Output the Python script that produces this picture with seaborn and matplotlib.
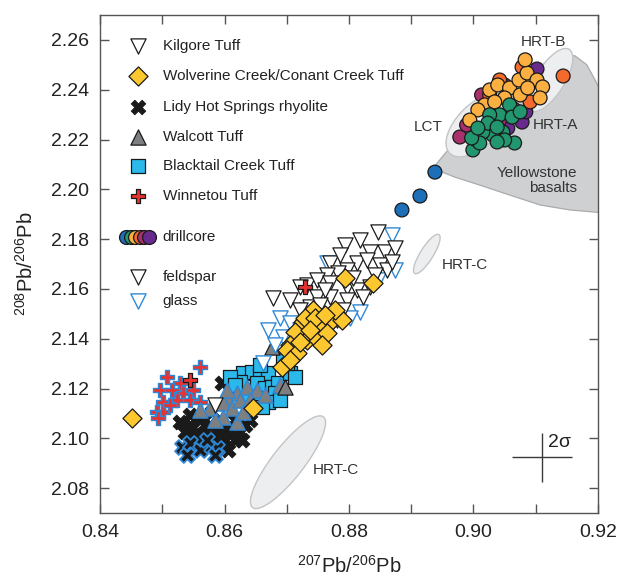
import numpy as np
import pandas as pd
import matplotlib
matplotlib.use("Agg")
import matplotlib.pyplot as plt
import seaborn as sns
from matplotlib.patches import Ellipse
from matplotlib.ticker import MultipleLocator, FormatStrFormatter

# ---------------- data ----------------
kilgore_fsp_x = [0.8846, 0.8793, 0.8834, 0.8858, 0.8874, 0.8769, 0.8813, 0.8829, 0.8850, 0.8861,
                 0.8797, 0.8782, 0.8765, 0.8732, 0.8721, 0.8748, 0.8769, 0.8797, 0.8813, 0.8834,
                 0.8822, 0.8797, 0.8769, 0.8748, 0.8678, 0.8737, 0.8790, 0.8806, 0.8842, 0.8869,
                 0.8585, 0.8761, 0.8785, 0.8818, 0.8705, 0.8753, 0.8781, 0.8721]
kilgore_fsp_y = [2.1828, 2.1776, 2.1748, 2.1748, 2.1764, 2.1704, 2.1704, 2.1716, 2.1696, 2.1675,
                 2.1675, 2.1663, 2.1655, 2.1615, 2.1607, 2.1635, 2.1623, 2.1607, 2.1595, 2.1607,
                 2.1567, 2.1555, 2.1567, 2.1567, 2.1563, 2.1527, 2.1515, 2.1643, 2.1655, 2.1708,
                 2.1133, 2.1595, 2.1736, 2.1796, 2.1555, 2.1535, 2.1474, 2.1515]
kilgore_gls_x = [0.8869, 0.8818, 0.8689, 0.8732, 0.8705, 0.8694, 0.8662, 0.8681, 0.8802, 0.8765,
                 0.8846, 0.8874, 0.8670, 0.8721, 0.8753]
kilgore_gls_y = [2.1816, 2.1507, 2.1482, 2.1515, 2.1462, 2.1406, 2.1302, 2.1374, 2.1482, 2.1704,
                 2.1635, 2.1675, 2.1434, 2.1434, 2.1563]

wolverine_x = [0.8793, 0.8838, 0.8742, 0.8769, 0.8789, 0.8753, 0.8726, 0.8713, 0.8732, 0.8750,
               0.8765, 0.8705, 0.8700, 0.8716, 0.8692, 0.8729, 0.8745, 0.8777, 0.8737, 0.8721,
               0.8757, 0.8761, 0.8451, 0.8646, 0.8705]
wolverine_y = [2.1643, 2.1623, 2.1515, 2.1466, 2.1474, 2.1446, 2.1466, 2.1426, 2.1394, 2.1394,
               2.1422, 2.1374, 2.1354, 2.1342, 2.1286, 2.1482, 2.1482, 2.1515, 2.1434, 2.1386,
               2.1374, 2.1495, 2.1080, 2.1121, 2.1314]

lidy_fsp_x = [0.8528, 0.8545, 0.8561, 0.8577, 0.8593, 0.8609, 0.8625, 0.8537, 0.8553, 0.8569,
              0.8585, 0.8601, 0.8617, 0.8577, 0.8593, 0.8561, 0.8633, 0.8617, 0.8545, 0.8596,
              0.8612, 0.8580, 0.8641, 0.8553, 0.8606, 0.8628]
lidy_fsp_y = [2.1064, 2.1052, 2.1072, 2.1052, 2.1040, 2.1032, 2.1024, 2.1024, 2.1012, 2.1024,
              2.1000, 2.0992, 2.0992, 2.0972, 2.0960, 2.0980, 2.1052, 2.1072, 2.1093, 2.1221,
              2.1225, 2.1105, 2.1072, 2.0972, 2.0952, 2.0992]
lidy_gls_x = [0.8532, 0.8545, 0.8561, 0.8588, 0.8572, 0.8540, 0.8585]
lidy_gls_y = [2.0964, 2.0980, 2.0952, 2.0960, 2.0992, 2.0932, 2.0932]

walcott_fsp_x = [0.8676, 0.8697]
walcott_fsp_y = [2.1366, 2.1205]
walcott_gls_x = [0.8636, 0.8620, 0.8604, 0.8652, 0.8577, 0.8598, 0.8612, 0.8598, 0.8620, 0.8625,
                 0.8604, 0.8641, 0.8630, 0.8665, 0.8585, 0.8561, 0.8689]
walcott_gls_y = [2.1205, 2.1181, 2.1165, 2.1193, 2.1121, 2.1141, 2.1121, 2.1084, 2.1064, 2.1153,
                 2.1193, 2.1153, 2.1105, 2.1173, 2.1072, 2.1113, 2.1213]

blacktail_x = [0.8630, 0.8644, 0.8657, 0.8670, 0.8625, 0.8652, 0.8665, 0.8676, 0.8686, 0.8705,
               0.8713, 0.8681, 0.8670, 0.8649, 0.8636, 0.8609, 0.8700, 0.8660, 0.8689, 0.8617,
               0.8694, 0.8657]
blacktail_y = [2.1261, 2.1265, 2.1253, 2.1261, 2.1225, 2.1221, 2.1201, 2.1205, 2.1221, 2.1261,
               2.1245, 2.1181, 2.1145, 2.1161, 2.1165, 2.1245, 2.1302, 2.1125, 2.1153, 2.1213,
               2.1314, 2.1294]

winnetou_gls_x = [0.8561, 0.8508, 0.8528, 0.8496, 0.8516, 0.8533, 0.8549, 0.8501, 0.8524, 0.8545,
                  0.8561, 0.8492, 0.8501, 0.8493, 0.8512]
winnetou_gls_y = [2.1285, 2.1245, 2.1221, 2.1193, 2.1193, 2.1181, 2.1193, 2.1145, 2.1153, 2.1153,
                  2.1145, 2.1105, 2.1105, 2.1080, 2.1133]
winnetou_fsp_x = [0.8545, 0.8729]
winnetou_fsp_y = [2.1233, 2.1607]

drill_purple_x = [0.9102, 0.9078, 0.9055, 0.9084]
drill_purple_y = [2.2483, 2.2270, 2.2246, 2.2311]
drill_magenta_x = [0.8978, 0.8989, 0.9050, 0.9042, 0.9013]
drill_magenta_y = [2.2210, 2.2258, 2.2419, 2.2278, 2.2379]
drill_orange_x = [0.9144, 0.9078, 0.9042, 0.9091, 0.9066, 0.9026]
drill_orange_y = [2.2455, 2.2491, 2.2439, 2.2351, 2.2319, 2.2379]
drill_yellow_x = [0.9026, 0.9039, 0.9058, 0.9073, 0.9086, 0.9102, 0.9111, 0.9075, 0.9050, 0.9018,
                  0.9034, 0.9062, 0.9087, 0.9083, 0.9007, 0.9107, 0.8994]
drill_yellow_y = [2.2399, 2.2419, 2.2407, 2.2439, 2.2467, 2.2439, 2.2411, 2.2379, 2.2367, 2.2339,
                  2.2351, 2.2327, 2.2407, 2.2520, 2.2319, 2.2367, 2.2278]
drill_green_x = [0.8999, 0.9005, 0.9026, 0.9042, 0.9058, 0.9062, 0.9047, 0.9031, 0.9015, 0.9026,
                 0.9066, 0.9050, 0.9038, 0.9010, 0.8997, 0.9023, 0.9075, 0.9007, 0.9038]
drill_green_y = [2.2158, 2.2198, 2.2246, 2.2299, 2.2339, 2.2290, 2.2230, 2.2218, 2.2230, 2.2299,
                 2.2186, 2.2198, 2.2190, 2.2186, 2.2206, 2.2266, 2.2311, 2.2246, 2.2250]
drill_blue_x = [0.8885, 0.8914, 0.8938]
drill_blue_y = [2.1917, 2.1973, 2.2069]

basalt_x = [0.8935, 0.8959, 0.8981, 0.9007, 0.9042, 0.9078, 0.9115, 0.9142, 0.9163, 0.9182,
            0.9197, 0.9211, 0.9211, 0.9155, 0.9107, 0.9058, 0.9010, 0.8970, 0.8946]
basalt_y = [2.2085, 2.2158, 2.2230, 2.2299, 2.2367, 2.2439, 2.2508, 2.2540, 2.2536, 2.2500,
            2.2431, 2.2359, 2.1905, 2.1917, 2.1937, 2.1977, 2.2017, 2.2049, 2.2073]

# ellipse fields: center x, center y, major / minor (fraction of axes), angle
ell_names = ["LCT", "HRT-B", "HRT-C small", "HRT-C large"]
ell_cx = [0.9007, 0.9123, 0.8925, 0.8702]
ell_cy = [2.2258, 2.2439, 2.1740, 2.0904]
ell_major = [0.160, 0.145, 0.092, 0.231]
ell_minor = [0.084, 0.058, 0.026, 0.064]
ell_angle = [45, 58, 58, 52]

err_x, err_y = 0.9110, 2.0924
err_dx, err_dy = 0.0048, 0.0098

# ---------------- style ----------------
sns.set_theme(style="ticks")
plt.rcParams['font.family'] = ['Liberation Sans', 'DejaVu Sans']
plt.rcParams['mathtext.fontset'] = 'custom'
plt.rcParams['mathtext.rm'] = 'Liberation Sans'
plt.rcParams['mathtext.it'] = 'Liberation Sans:italic'
plt.rcParams['mathtext.bf'] = 'Liberation Sans:bold'

GOLD = '#FDC72F'
CYAN = '#2BB9EC'
GRAY = '#7E7F81'
RED = '#E8322F'
BLUE_E = '#2F88D6'
BLK = '#1a1a1a'
TXT = '#333333'
drill_pal = {'blue': '#1D6FB8', 'green': '#22966E', 'yellow': '#FBB041',
             'orange': '#F26B2D', 'magenta': '#A8306D', 'purple': '#682A8D'}

fig = plt.figure(figsize=(6.19, 5.76), dpi=100)
ax = fig.add_axes([100/619, 63/576, 498/619, 498/576])
XMIN, XMAX, YMIN, YMAX = 0.84, 0.92, 2.07, 2.27
ax.set_xlim(XMIN, XMAX)
ax.set_ylim(YMIN, YMAX)

# basalt field
ax.fill(basalt_x, basalt_y, facecolor='#CFD0D2', edgecolor='#A9AAAC', lw=0.9, zorder=1)

# ellipses (defined in axes fraction so they stay true ellipses)
for cx, cy, ma, mi, an in zip(ell_cx, ell_cy, ell_major, ell_minor, ell_angle):
    fx = (cx - XMIN) / (XMAX - XMIN)
    fy = (cy - YMIN) / (YMAX - YMIN)
    e = Ellipse((fx, fy), ma, mi, angle=an, transform=ax.transAxes,
                facecolor='#EDEEF0', edgecolor='#C3C4C6', lw=1.0, zorder=1.5)
    ax.add_patch(e)

ms = dict(ax=ax, legend=False)
# Lidy Hot Springs
sns.scatterplot(x=lidy_fsp_x, y=lidy_fsp_y, marker='X', s=115, color=BLK,
                edgecolor=BLK, linewidth=0.6, zorder=3, **ms)
sns.scatterplot(x=lidy_gls_x, y=lidy_gls_y, marker='X', s=115, color=BLK,
                edgecolor=BLUE_E, linewidth=1.3, zorder=3.1, **ms)
# Winnetou
sns.scatterplot(x=winnetou_gls_x, y=winnetou_gls_y, marker='P', s=110, color=RED,
                edgecolor=BLUE_E, linewidth=1.0, zorder=3.2, **ms)
# Blacktail Creek
sns.scatterplot(x=blacktail_x, y=blacktail_y, marker='s', s=88, color=CYAN,
                edgecolor=BLK, linewidth=0.9, zorder=3.3, **ms)
# Walcott
sns.scatterplot(x=walcott_gls_x, y=walcott_gls_y, marker='^', s=120, color=GRAY,
                edgecolor=BLUE_E, linewidth=1.0, zorder=3.4, **ms)
sns.scatterplot(x=walcott_fsp_x, y=walcott_fsp_y, marker='^', s=120, color=GRAY,
                edgecolor=BLK, linewidth=0.9, zorder=3.4, **ms)
# Kilgore
sns.scatterplot(x=kilgore_gls_x, y=kilgore_gls_y, marker='v', s=120, color='white',
                edgecolor=BLUE_E, linewidth=1.0, zorder=3.5, **ms)
sns.scatterplot(x=kilgore_fsp_x, y=kilgore_fsp_y, marker='v', s=120, color='white',
                edgecolor=BLK, linewidth=0.9, zorder=3.6, **ms)
# Wolverine
sns.scatterplot(x=wolverine_x, y=wolverine_y, marker='D', s=95, color=GOLD,
                edgecolor=BLK, linewidth=0.9, zorder=3.7, **ms)
sns.scatterplot(x=winnetou_fsp_x, y=winnetou_fsp_y, marker='P', s=110, color=RED,
                edgecolor=BLK, linewidth=0.9, zorder=3.8, **ms)

# drillcore
frames = []
for name, xs, ys in [('purple', drill_purple_x, drill_purple_y),
                     ('magenta', drill_magenta_x, drill_magenta_y),
                     ('orange', drill_orange_x, drill_orange_y),
                     ('yellow', drill_yellow_x, drill_yellow_y),
                     ('green', drill_green_x, drill_green_y),
                     ('blue', drill_blue_x, drill_blue_y)]:
    frames.append(pd.DataFrame({'x': xs, 'y': ys, 'core': name}))
drill = pd.concat(frames, ignore_index=True)
sns.scatterplot(data=drill, x='x', y='y', hue='core', palette=drill_pal, marker='o',
                s=100, edgecolor=BLK, linewidth=0.9, zorder=4, **ms)

# 2 sigma cross
ax.errorbar([err_x], [err_y], xerr=[err_dx], yerr=[err_dy], fmt='none',
            ecolor='#3a3a3a', elinewidth=1.0, capsize=0, zorder=5)
ax.text(0.9120, 2.0984, '2σ', fontsize=14, color='#222222', ha='left', va='center')

# field labels
lab = dict(fontsize=11, color=TXT, zorder=6)
ax.text(0.9113, 2.2592, 'HRT-B', ha='center', va='center', **lab)
ax.text(0.8927, 2.2250, 'LCT', ha='center', va='center', **lab)
ax.text(0.9131, 2.2258, 'HRT-A', ha='center', va='center', **lab)
ax.text(0.9166, 2.2065, 'Yellowstone', ha='right', va='center', **lab)
ax.text(0.9166, 2.2005, 'basalts', ha='right', va='center', **lab)
ax.text(0.8986, 2.1696, 'HRT-C', ha='center', va='center', **lab)
ax.text(0.8779, 2.0871, 'HRT-C', ha='center', va='center', **lab)

# legend (drawn by hand in axes fraction)
lx, tx = 0.0757, 0.126
rows = [(0.938, 'Kilgore Tuff', dict(marker='v', s=120, c='white', edgecolors=BLK, linewidths=0.9)),
        (0.878, 'Wolverine Creek/Conant Creek Tuff', dict(marker='D', s=95, c=GOLD, edgecolors=BLK, linewidths=0.9)),
        (0.816, 'Lidy Hot Springs rhyolite', dict(marker='X', s=110, c=BLK, edgecolors=BLK, linewidths=0.6)),
        (0.756, 'Walcott Tuff', dict(marker='^', s=120, c=GRAY, edgecolors=BLK, linewidths=0.9)),
        (0.697, 'Blacktail Creek Tuff', dict(marker='s', s=88, c=CYAN, edgecolors=BLK, linewidths=0.9)),
        (0.637, 'Winnetou Tuff', dict(marker='P', s=110, c=RED, edgecolors=BLK, linewidths=0.9)),
        (0.474, 'feldspar', dict(marker='v', s=120, c='white', edgecolors=BLK, linewidths=0.9)),
        (0.426, 'glass', dict(marker='v', s=120, c='white', edgecolors=BLUE_E, linewidths=1.0))]
for fy, label, kw in rows:
    ax.scatter([lx], [fy], transform=ax.transAxes, clip_on=False, zorder=6, **kw)
    ax.text(tx, fy, label, transform=ax.transAxes, fontsize=11, color='#222222',
            ha='left', va='center', zorder=6)
for i, name in enumerate(['blue', 'green', 'yellow', 'orange', 'magenta', 'purple']):
    ax.scatter([0.053 + i * 0.0089], [0.555], transform=ax.transAxes, marker='o', s=100,
               c=drill_pal[name], edgecolors=BLK, linewidths=0.9, zorder=6 + i * 0.01,
               clip_on=False)
ax.text(tx, 0.555, 'drillcore', transform=ax.transAxes, fontsize=11, color='#222222',
        ha='left', va='center', zorder=6)

# axes styling
ax.xaxis.set_major_locator(MultipleLocator(0.02))
ax.xaxis.set_minor_locator(MultipleLocator(0.01))
ax.yaxis.set_major_locator(MultipleLocator(0.02))
ax.xaxis.set_major_formatter(FormatStrFormatter('%.2f'))
ax.yaxis.set_major_formatter(FormatStrFormatter('%.2f'))
ax.tick_params(axis='both', which='both', direction='in', top=True, right=True,
               length=6.5, width=1.0, color='#555555', labelsize=14, labelcolor='#222222')
ax.tick_params(axis='x', which='major', pad=8)
ax.tick_params(axis='y', which='major', pad=8)
for sp in ax.spines.values():
    sp.set_color('#555555')
    sp.set_linewidth(1.0)
ax.set_xlabel(r'$^{207}$Pb/$^{206}$Pb', fontsize=14.5, color='#222222', labelpad=10)
ax.set_ylabel(r'$^{208}$Pb/$^{206}$Pb', fontsize=14.5, color='#222222', labelpad=10)

fig.savefig('out.png', dpi=100)
